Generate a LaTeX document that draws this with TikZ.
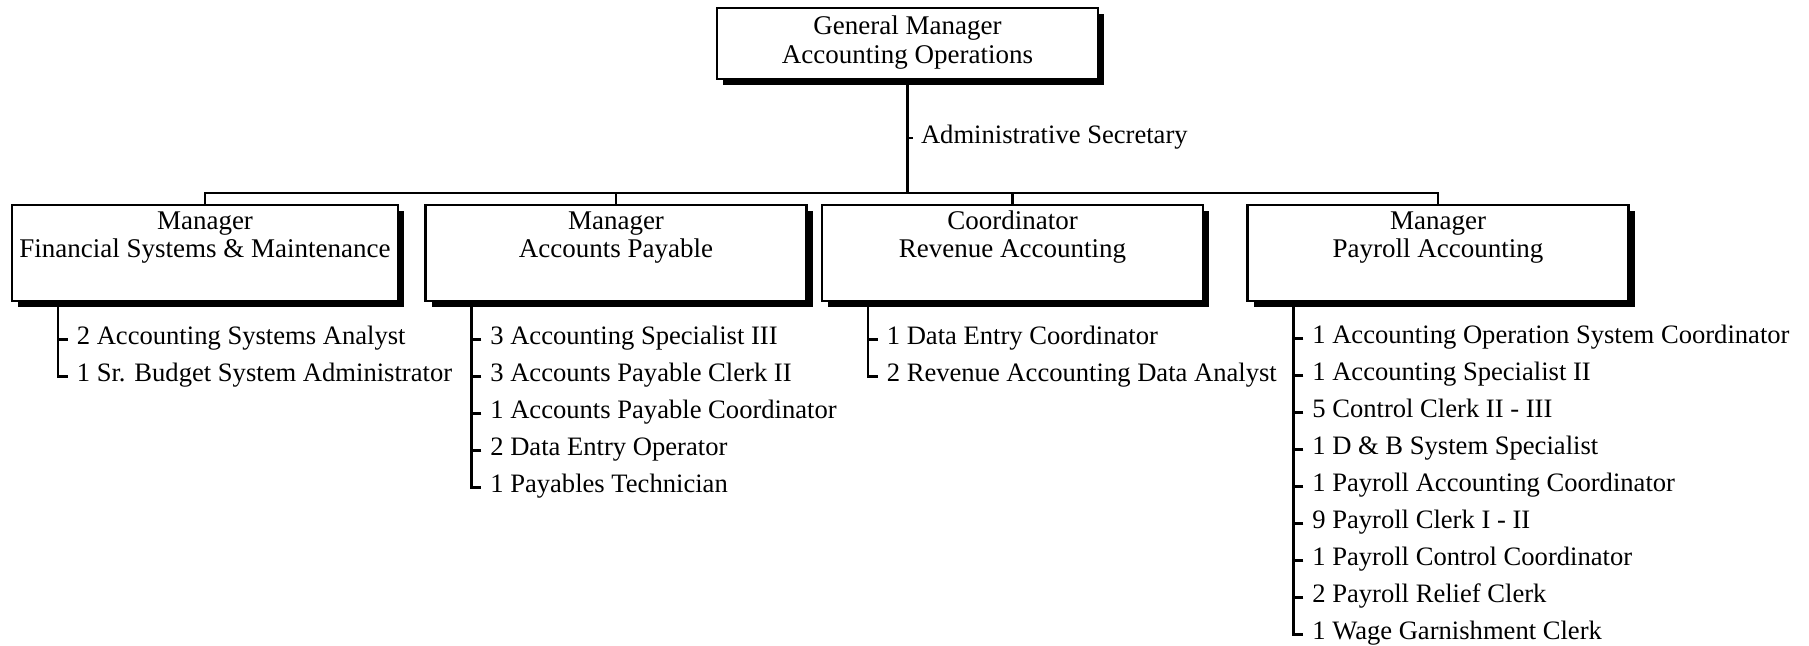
\documentclass[tikz,border=0pt]{standalone}
\usepackage{fontspec}
\setmainfont{Liberation Serif}
\usetikzlibrary{positioning, shadows}

\begin{document}
\begin{tikzpicture}[x=0.5pt, y=-0.5pt, node distance=0pt,
  head/.style={draw, line width=1.2pt, fill=white, anchor=north, align=center,
    minimum width=190.5pt, inner ysep=3.5pt, text height=24pt, text depth=4.5pt,
    font=\fontsize{13.5}{14.5}\selectfont,
    drop shadow={shadow xshift=3pt, shadow yshift=-3pt, fill=black, opacity=1}},
  unit/.style={head, text height=22.5pt, text depth=18.5pt, font=\fontsize{13.5}{14}\selectfont},
  item/.style={anchor=west, inner xsep=4.5pt, inner ysep=0pt, outer sep=0pt, text height=12pt, text depth=6.5pt,
    font=\fontsize{13.3}{15}\selectfont},
  rule/.style={line width=1.2pt},
]
  \useasboundingbox (0,0) rectangle (1809,646);

  \node[head] (gm) at (907.5,7) {General Manager\\Accounting Operations};
  \node[unit, minimum width=193pt] (fsm) at (205,204) {Manager\\Financial Systems \& Maintenance};
  \node[unit] (ap) at (616,204) {Manager\\Accounts Payable};
  \node[unit] (ra) at (1012.5,204) {Coordinator\\Revenue Accounting};
  \node[unit] (pa) at (1438,204) {Manager\\Payroll Accounting};

  \coordinate (bus) at (0,193);
  \draw[rule] (gm.south) -- (gm.south |- bus);
  \draw[rule] (fsm.north) |- (pa.north |- bus) -- (pa.north);
  \foreach \u in {ap, ra}
    \draw[rule] (\u.north) -- (\u.north |- bus);

  \node[item, inner xsep=4pt] (sec) at (913,138) {Administrative Secretary};
  \draw[rule] (sec.west -| gm.south) -- (sec.west);

  \foreach \u in {fsm, ap, ra, pa}
    \coordinate (\u-l) at ([xshift=23.5pt]\u.south west);

  \node[item] (fsm1) at ([xshift=5pt, yshift=-18.5pt]fsm-l) {2 Accounting Systems Analyst};
  \node[item, below=of fsm1.south west, anchor=north west] (fsm2) {1 Sr. Budget System Administrator};

  \node[item] (ap1) at ([xshift=5pt, yshift=-18.5pt]ap-l) {3 Accounting Specialist III};
  \node[item, below=of ap1.south west, anchor=north west] (ap2) {3 Accounts Payable Clerk II};
  \node[item, below=of ap2.south west, anchor=north west] (ap3) {1 Accounts Payable Coordinator};
  \node[item, below=of ap3.south west, anchor=north west] (ap4) {2 Data Entry Operator};
  \node[item, below=of ap4.south west, anchor=north west] (ap5) {1 Payables Technician};

  \node[item] (ra1) at ([xshift=5pt, yshift=-18.5pt]ra-l) {1 Data Entry Coordinator};
  \node[item, below=of ra1.south west, anchor=north west] (ra2) {2 Revenue Accounting Data Analyst};

  \node[item] (pa1) at ([xshift=5pt, yshift=-18pt]pa-l) {1 Accounting Operation System Coordinator};
  \node[item, below=of pa1.south west, anchor=north west] (pa2) {1 Accounting Specialist II};
  \node[item, below=of pa2.south west, anchor=north west] (pa3) {5 Control Clerk II - III};
  \node[item, below=of pa3.south west, anchor=north west] (pa4) {1 D \& B System Specialist};
  \node[item, below=of pa4.south west, anchor=north west] (pa5) {1 Payroll Accounting Coordinator};
  \node[item, below=of pa5.south west, anchor=north west] (pa6) {9 Payroll Clerk I - II};
  \node[item, below=of pa6.south west, anchor=north west] (pa7) {1 Payroll Control Coordinator};
  \node[item, below=of pa7.south west, anchor=north west] (pa8) {2 Payroll Relief Clerk};
  \node[item, below=of pa8.south west, anchor=north west] (pa9) {1 Wage Garnishment Clerk};

  \foreach \u/\n in {fsm/2, ap/5, ra/2, pa/9}
    \draw[rule] (\u-l) |- (\u\n.west);
  \foreach \u/\n in {fsm/1, ap/4, ra/1, pa/8}
    \foreach \i in {1,...,\n}
      \draw[rule] (\u\i.west) -- (\u\i.west -| \u-l);
\end{tikzpicture}
\end{document}
